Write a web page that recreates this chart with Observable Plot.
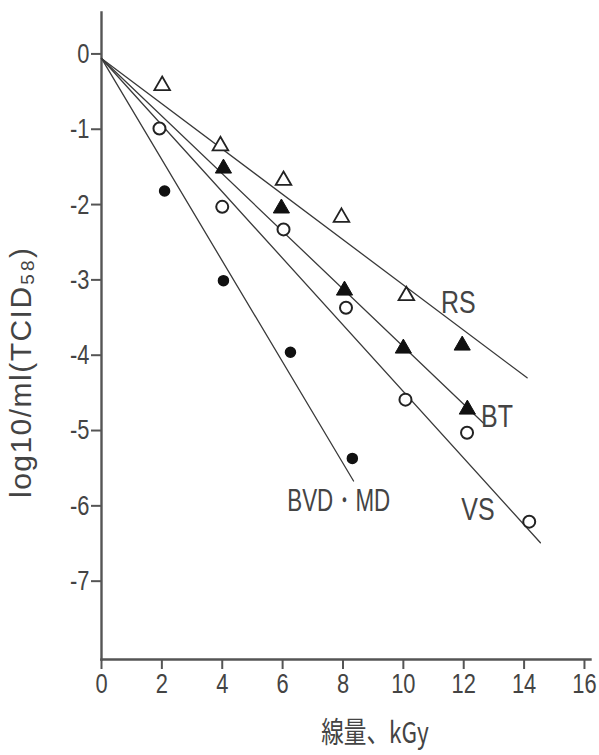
<!DOCTYPE html>
<html><head><meta charset="utf-8">
<script src="https://cdn.jsdelivr.net/npm/d3@7"></script>
<script src="https://cdn.jsdelivr.net/npm/@observablehq/plot@0.6"></script>
<style>body{margin:0;background:#fff}</style>
</head><body><div id="chart"></div>
<script>
// Tick values
const xTicks = [0, 2, 4, 6, 8, 10, 12, 14, 16];
const yTicks = [0, -1, -2, -3, -4, -5, -6, -7];

// RS (open triangles)
const doseRS = [2.01, 3.94, 6.03, 7.95, 10.1];
const logRS  = [-0.42, -1.22, -1.68, -2.17, -3.21];
// BT (filled triangles)
const doseBT = [4.04, 5.96, 8.05, 10.0, 11.95, 12.12];
const logBT  = [-1.52, -2.05, -3.14, -3.91, -3.87, -4.72];
// VS (open circles)
const doseVS = [1.92, 4.0, 6.03, 8.1, 10.07, 12.11, 14.17];
const logVS  = [-0.99, -2.03, -2.33, -3.37, -4.59, -5.03, -6.21];
// BVD・MD (filled circles)
const doseBVD = [2.09, 4.04, 6.26, 8.31];
const logBVD  = [-1.82, -3.01, -3.96, -5.37];

// Fitted regression lines (start and end points)
const fitNames = ["RS", "BT", "VS", "BVD・MD"];
const fitX0 = [0, 0, 0, 0];
const fitY0 = [-0.06, -0.06, -0.06, -0.06];
const fitX1 = [14.1, 12.65, 14.54, 8.35];
const fitY1 = [-4.30, -4.90, -6.49, -5.67];

// Series labels
const labelNames = ["RS", "BT", "VS", "BVD・MD"];
const labelX = [11.82, 13.1, 12.47, 7.86];
const labelY = [-3.30, -4.82, -6.05, -5.93];

const xLabel = "線量、kGy";
const yLabel = "log10/ml(TCID₅₈)";

const pts = (xs, ys) => xs.map((x, i) => ({x, y: ys[i]}));
const fitRows = fitNames.flatMap((n, i) => [
  {n, x: fitX0[i], y: fitY0[i]},
  {n, x: fitX1[i], y: fitY1[i]}
]);
const labelRows = labelNames.map((n, i) => ({n, x: labelX[i], y: labelY[i]}));

const FONT = "'Liberation Sans', Arial, sans-serif";
const INK = "#333";

const chart = Plot.plot({
  width: 599,
  height: 755,
  marginTop: 12,
  marginBottom: 96,
  marginLeft: 101,
  marginRight: 9,
  x: {domain: [0, 16.2]},
  y: {domain: [-8.04, 0.55]},
  style: {fontFamily: FONT, fontSize: "28px", color: INK, background: "#fff"},
  marks: [
    Plot.frame({anchor: "left", strokeWidth: 2.4, stroke: "#555"}),
    Plot.frame({anchor: "bottom", strokeWidth: 2.4, stroke: "#555"}),
    Plot.axisX(xTicks, {tickSize: 10, tickPadding: 4, fontSize: 28, label: null, strokeWidth: 2, stroke: "#555", fill: "#444"}),
    Plot.axisY(yTicks, {tickSize: 10, tickPadding: 2, fontSize: 28, label: null, strokeWidth: 2, stroke: "#555", fill: "#444",
      tickFormat: d => d < 0 ? "-" + (-d) : String(d)}),
    Plot.line(fitRows, {x: "x", y: "y", z: "n", stroke: "#3a3a3a", strokeWidth: 1.3}),
    Plot.dot(pts(doseRS, logRS), {x: "x", y: "y", symbol: "triangle", r: 5.8, stroke: "#222", fill: "white", strokeWidth: 1.8}),
    Plot.dot(pts(doseBT, logBT), {x: "x", y: "y", symbol: "triangle", r: 6, fill: "#111", stroke: "#111", strokeWidth: 1}),
    Plot.dot(pts(doseVS, logVS), {x: "x", y: "y", symbol: "circle", r: 6, stroke: "#222", fill: "white", strokeWidth: 2}),
    Plot.dot(pts(doseBVD, logBVD), {x: "x", y: "y", symbol: "circle", r: 5, fill: "#111", stroke: "#111"}),
    Plot.text(labelRows, {x: "x", y: "y", text: "n", fontSize: 32, fill: "#444", fontFamily: FONT}),
    Plot.text([xLabel], {frameAnchor: "bottom", dx: 29, dy: 83, fontSize: 29, fill: "#444",
      fontFamily: "'Noto Sans CJK JP', " + FONT}),
    Plot.text([yLabel], {frameAnchor: "left", textAnchor: "middle", dx: -80, dy: 37, rotate: -90, fontSize: 30, fill: "#444",
      fontFamily: FONT})
  ]
});
document.getElementById("chart").append(chart);

// Horizontally condense all text, as in the reference's narrow lettering
const targetLength = new Map([[yLabel, 250], ["BVD・MD", 103]]);
chart.querySelectorAll("text").forEach(t => {
  const L = t.getComputedTextLength();
  if (L > 0) {
    const target = targetLength.get(t.textContent) ?? L * 0.78;
    t.setAttribute("textLength", target.toFixed(2));
    t.setAttribute("lengthAdjust", t.textContent === yLabel ? "spacing" : "spacingAndGlyphs");
  }
});
</script>
</body></html>
